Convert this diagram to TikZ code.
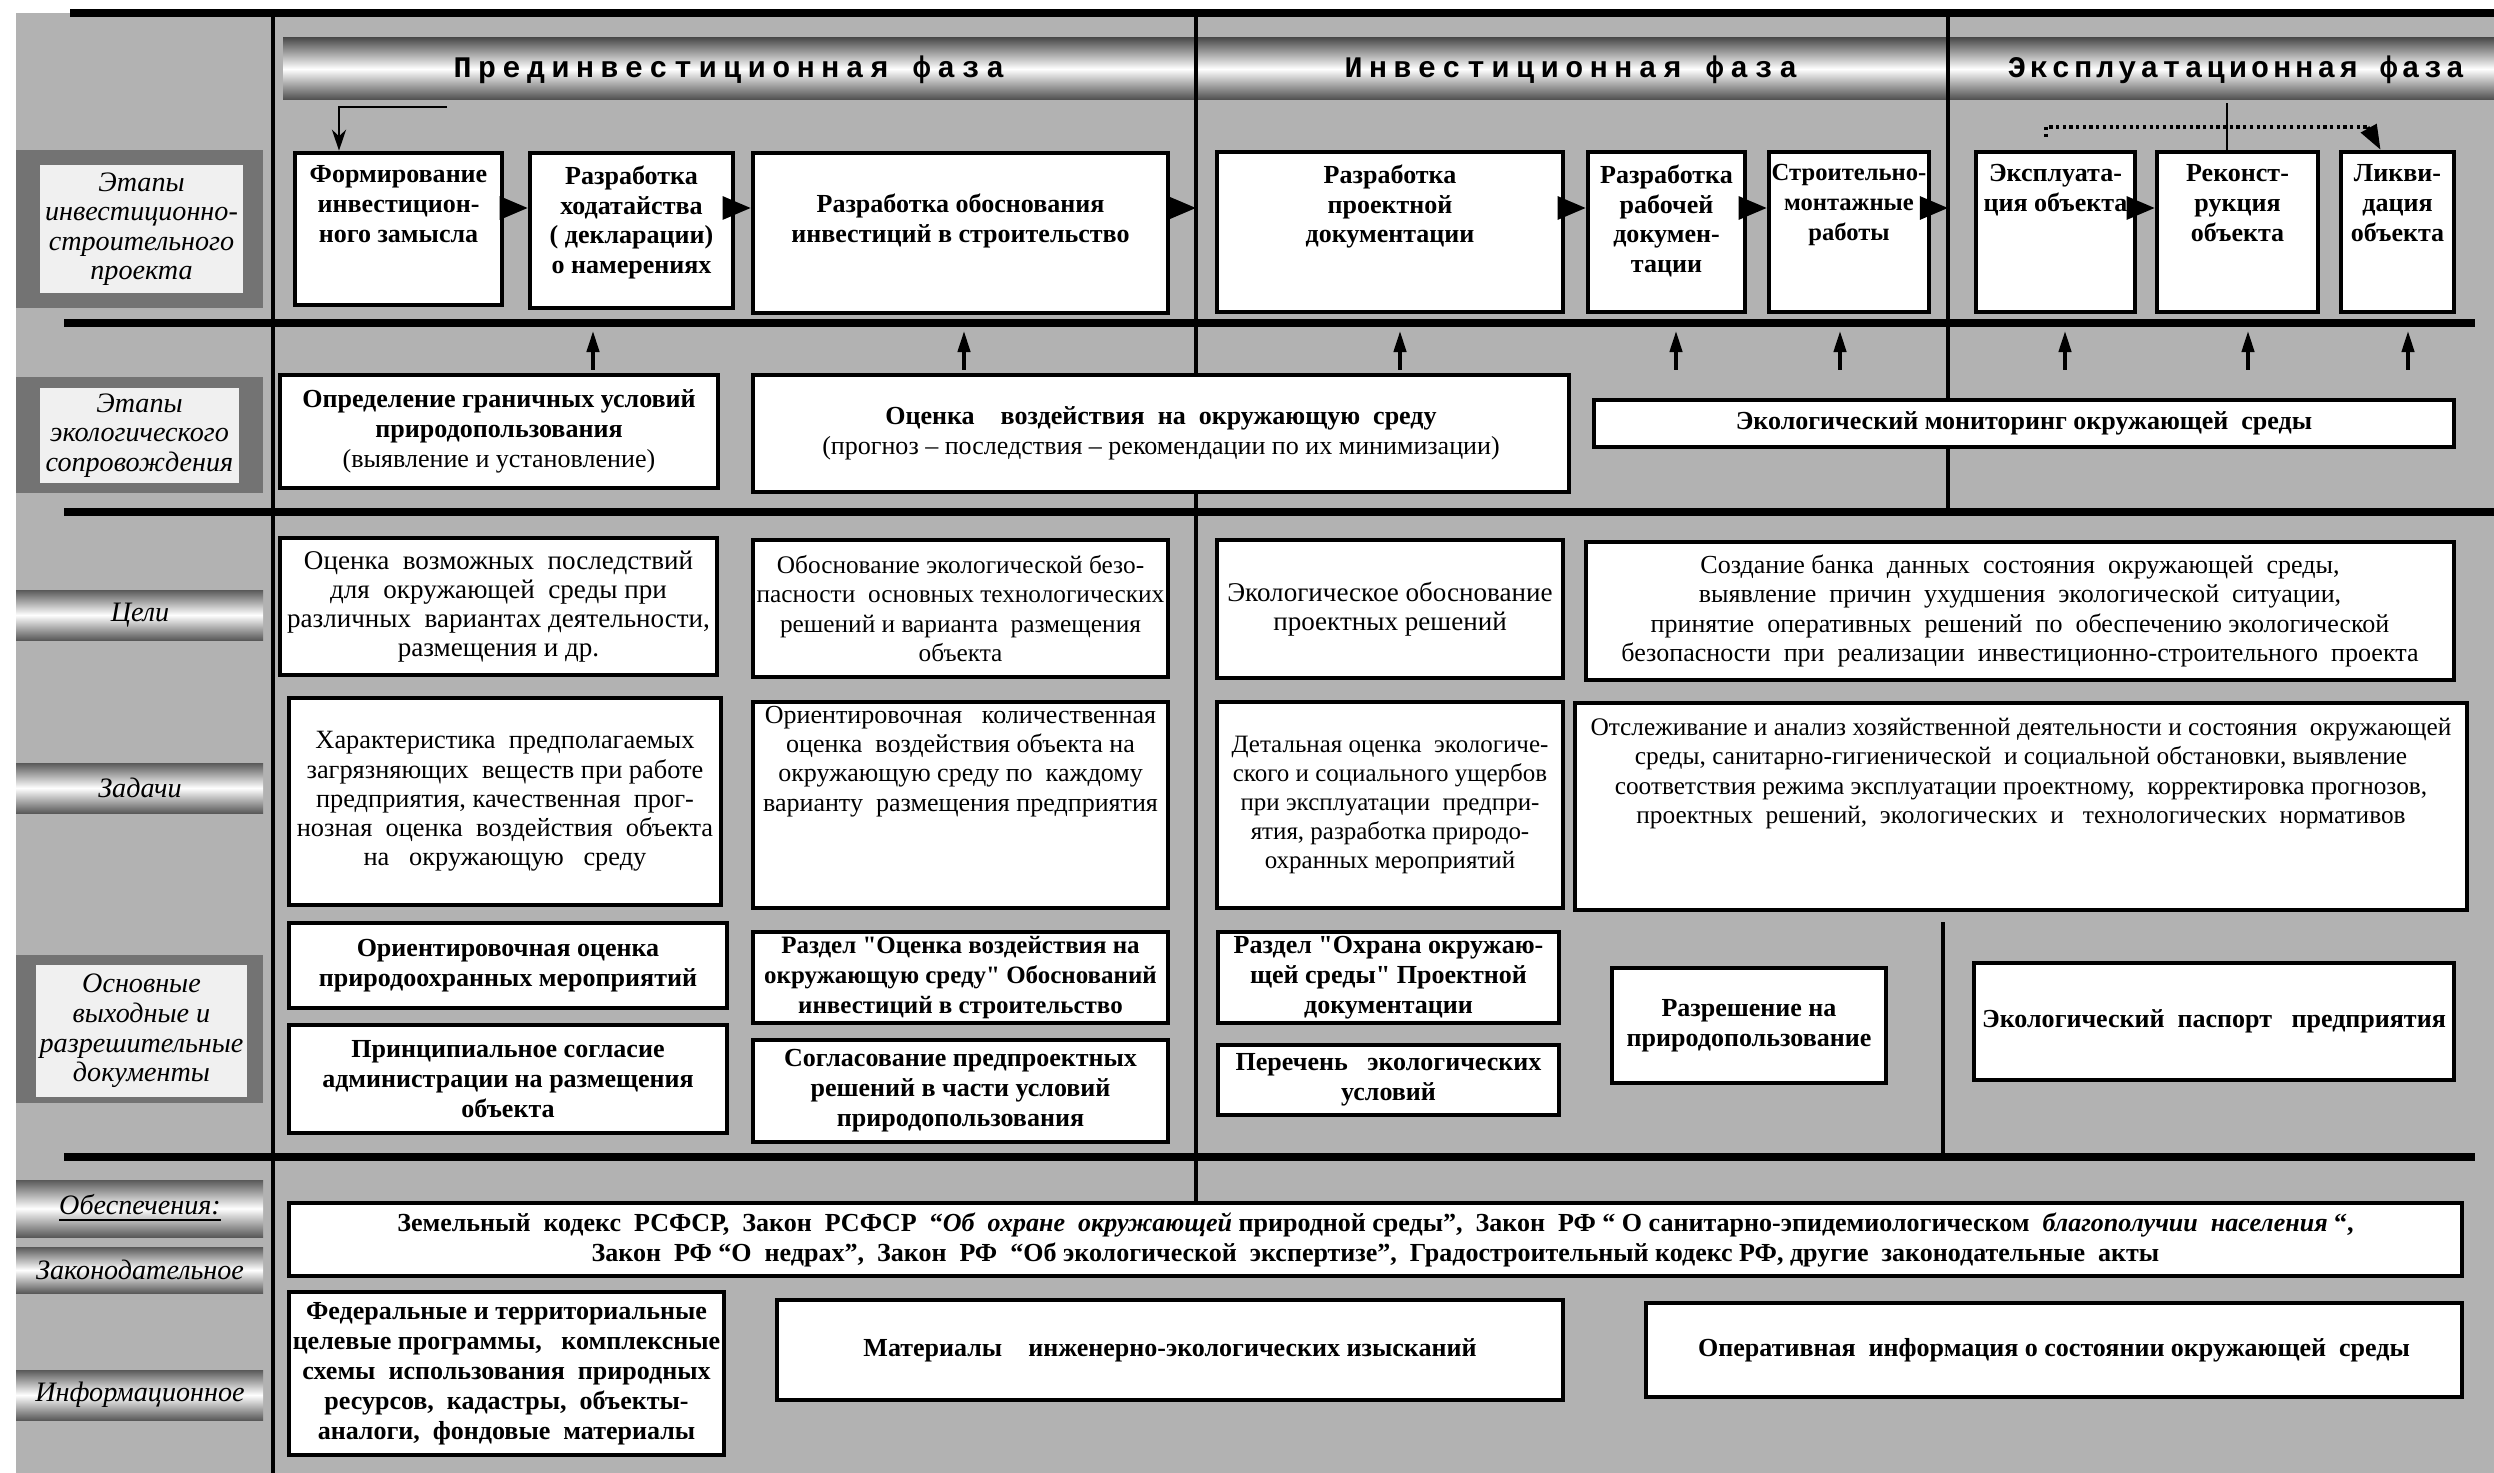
\documentclass[tikz,border=0pt]{standalone}
\usepackage{fontspec}
\setmainfont{Liberation Serif}
\newfontfamily\phasefont[LetterSpace=22]{Liberation Mono}
\newfontfamily\phasefontn[LetterSpace=14]{Liberation Mono}
\usetikzlibrary{arrows.meta,positioning}

% box from its corners: [opts]{name}{x1}{y1}{x2}{y2}{text}
\newcommand\bx[7][]{%
  \node[box,minimum width={(#5-#3)*0.01cm},minimum height={(#6-#4)*0.01cm},#1]
    (#2) at ({(#3+#5)/2},{(#4+#6)/2}) {#7};}
% shaded strip of the left column: {name}{y1}{y2}{text}
\newcommand\sidestrip[4]{%
  \shade[top color=black!65, bottom color=black!65, middle color=white]
    (16,#2) rectangle (263,#3);
  \node[side] (#1) at (140,{(#2+#3)/2}) {#4};}
\newcommand\qq{\textquotedbl}

\begin{document}
\begin{tikzpicture}[x=0.01cm, y=-0.01cm,
  box/.style={draw, fill=white, line width=1.3pt, inner sep=1pt, align=center,
    font=\fontsize{7.4}{8.5}\selectfont\bfseries},
  plain/.style={font=\fontsize{#1}{8.3}\selectfont},
  plain/.default=7.7,
  stage/.style={inner sep=0pt, align=center, font=\fontsize{7.4}{8.5}\selectfont\bfseries},
  sidebox/.style={draw=none, fill=black!6, font=\fontsize{8}{8.4}\selectfont\itshape},
  side/.style={inner sep=0pt, align=center, font=\fontsize{8}{8.4}\selectfont\itshape},
  phase/.style={inner sep=0pt, font=\fontsize{8.5}{9}\selectfont\phasefont\bfseries},
  sep/.style={line width=2.3pt},
  col/.style={line width=1.4pt},
  harr/.style={-{Triangle[length=8pt,width=6.5pt]}, line width=1pt},
  uparr/.style={-{Triangle[length=6pt,width=3.5pt]}, line width=1pt}]
  \useasboundingbox (0,0) rectangle (2494,1473);
  \fill[black!30] (16,13) rectangle (2494,1473);
  % phase band
  \shade[top color=black!70, bottom color=black!70, middle color=white]
    (283,38) rectangle (2494,100);
  \node[phase] (p1) at (729,70) {Прединвестиционная фаза};
  \node[phase] (p2) at (1571,70) {Инвестиционная фаза};
  \node[phase, font=\fontsize{8.5}{9}\selectfont\phasefontn\bfseries] (p3) at (2236,70) {Эксплуатационная фаза};

  % left column
  \fill[black!55] (16,150) rectangle (263,308);
  \bx[sidebox]{l1}{40}{165}{243}{293}{Этапы\\инвестиционно-\\строительного\\проекта}
  \fill[black!55] (16,377) rectangle (263,493);
  \bx[sidebox]{l2}{40}{388}{239}{483}{Этапы\\экологического\\сопровождения}
  \sidestrip{l3}{590}{640}{Цели}
  \sidestrip{l4}{763}{813}{Задачи}
  \fill[black!55] (16,955) rectangle (263,1103);
  \bx[sidebox]{l5}{40}{965}{243}{1097}{Основные\\выходные и\\разрешительные\\документы}
  \sidestrip{l6}{1180}{1237}{\underline{Обеспечения:}}
  \sidestrip{l7}{1247}{1293}{Законодательное}
  \sidestrip{l8}{1370}{1420}{Информационное}

  % rules
  \draw[sep] (70,13) -- (2494,13);
  \draw[sep] (64,323) -- (2475,323);
  \draw[sep] (64,512) -- (2494,512);
  \draw[sep] (64,1157) -- (2475,1157);
  \coordinate (v2) at (1196,0);
  \coordinate (v3) at (1948,0);
  \draw[col] (273,13) -- (273,1473);
  \draw[col] (v2 |- 0,13) -- (v2 |- 0,1205);
  \draw[col] (v3 |- 0,13) -- (v3 |- 0,512);
  \draw[col] (1943,922) -- (1943,1157);

  % stages of the project
  \bx{s1}{295}{153}{502}{305}{}
  \bx{s2}{530}{153}{733}{308}{}
  \bx{s3}{753}{153}{1168}{313}{}
  \bx{s4}{1217}{152}{1563}{312}{}
  \bx{s5}{1588}{152}{1745}{312}{}
  \bx{s6}{1769}{152}{1929}{312}{}
  \bx{s7}{1976}{152}{2135}{312}{}
  \bx{s8}{2157}{152}{2318}{312}{}
  \bx{s9}{2341}{152}{2454}{312}{}
  \node[stage, below=4pt of s1.north] (s1t) {Формирование\\инвестицион-\\ного замысла};
  \node[stage, below=4pt of s2.north] (s2t) {Разработка\\ходатайства\\( декларации)\\о намерениях};
  \node[stage, below=12pt of s3.north] (s3t) {Разработка обоснования\\инвестиций в строительство};
  \node[stage, below=4pt of s4.north] (s4t) {Разработка\\проектной\\документации};
  \node[stage, below=4pt of s5.north] (s5t) {Разработка\\рабочей\\докумен-\\тации};
  \node[stage, below=4pt of s6.north, font=\fontsize{7}{8.5}\selectfont\bfseries] (s6t) {Строительно-\\монтажные\\работы};
  \node[stage, below=4pt of s7.north] (s7t) {Эксплуата-\\ция объекта};
  \node[stage, below=4pt of s8.north] (s8t) {Реконст-\\рукция\\объекта};
  \node[stage, below=4pt of s9.north] (s9t) {Ликви-\\дация\\объекта};

  \coordinate (ar) at (0,208);
  \draw[harr] (s1.east |- ar) -- (s2.west |- ar);
  \draw[harr] (s2.east |- ar) -- (s3.west |- ar);
  \draw[harr] (s3.east |- ar) -- (v2 |- ar);
  \draw[harr] (s4.east |- ar) -- (s5.west |- ar);
  \draw[harr] (s5.east |- ar) -- (s6.west |- ar);
  \draw[harr] (s6.east |- ar) -- (v3 |- ar);
  \draw[harr] (s7.east |- ar) -- (s8.west |- ar);
  \coordinate (f0) at (447,107);
  \coordinate (f1) at (339,0);
  \draw[-{Stealth[length=6pt,width=4pt]}, line width=0.8pt] (f0) -| (f1 |- s1.north);
  % feedback in the operating phase
  \coordinate (d1) at (2046,137);
  \coordinate (d2) at (2046,127);
  \coordinate (d3) at (2368,127);
  \coordinate (d4) at (2227,103);
  \draw[line width=0.8pt] (s8.north -| d4) -- (d4);
  \draw[densely dotted, line width=0.9pt] (d1) -- (d2) -- (d3);
  \draw[-{Triangle[length=7pt,width=5pt]}, line width=0.9pt] (d3) -- ([xshift=-0.17cm]s9.north);

  % ecological support
  \bx{e1}{280}{375}{718}{488}{Определение граничных условий\\природопользования\\\textmd{(выявление и установление)}}
  \bx{e2}{753}{375}{1569}{492}{Оценка\quad воздействия\ \ на\ \ окружающую\ \ среду\\\textmd{(прогноз -- последствия -- рекомендации по их минимизации)}}
  \bx{e3}{1594}{400}{2454}{447}{Экологический мониторинг окружающей\ \ среды}
  \foreach \x [count=\i] in {593,964,1400,1676,1840,2065,2248,2408} {
    \coordinate (u\i) at (\x,370);
    \coordinate (w\i) at (\x,331);
    \draw[uparr] (u\i) -- (w\i);
  }

  % goals
  \bx[plain]{g1}{280}{538}{717}{675}{Оценка\ \ возможных\ \ последствий\\для\ \ окружающей\ \ среды при\\различных\ \ вариантах деятельности,\\размещения и др.}
  \bx[plain=7.2]{g2}{753}{540}{1168}{677}{Обоснование экологической безо-\\пасности\ \ основных технологических\\решений и варианта\ \ размещения\\объекта}
  \bx[plain]{g3}{1217}{540}{1563}{678}{Экологическое обоснование\\проектных решений}
  \bx[plain=7.4]{g4}{1586}{542}{2454}{680}{Создание банка\ \ данных\ \ состояния\ \ окружающей\ \ среды,\\выявление\ \ причин\ \ ухудшения\ \ экологической\ \ ситуации,\\принятие\ \ оперативных\ \ решений\ \ по\ \ обеспечению экологической\\безопасности\ \ при\ \ реализации\ \ инвестиционно-строительного\ \ проекта}
  % tasks
  \bx[plain=7.5]{t1}{289}{698}{721}{905}{Характеристика\ \ предполагаемых\\загрязняющих\ \ веществ при работе\\предприятия, качественная\ \ прог-\\нозная\ \ оценка\ \ воздействия\ \ объекта\\на\ \ \ окружающую\ \ \ среду}
  \bx[plain=7.4]{t2}{753}{702}{1168}{908}{Ориентировочная\ \ \ количественная\\оценка\ \ воздействия объекта на\\окружающую среду по\ \ каждому\\варианту\ \ размещения предприятия\\[18pt]}
  \bx[plain=7.1]{t3}{1217}{702}{1563}{908}{Детальная оценка\ \ экологиче-\\ского и социального ущербов\\при эксплуатации\ \ предпри-\\ятия, разработка природо-\\охранных мероприятий}
  \bx[plain=7.2]{t4}{1575}{703}{2467}{910}{Отслеживание и анализ хозяйственной деятельности и состояния\ \ окружающей\\среды, санитарно-гигиенической\ \ и социальной обстановки, выявление\\соответствия режима эксплуатации проектному,\ \ корректировка прогнозов,\\проектных\ \ решений,\ \ экологических\ \ и\ \ \ технологических\ \ нормативов\\[12pt]}

  % documents
  \bx{d1}{289}{923}{727}{1008}{Ориентировочная оценка\\природоохранных мероприятий}
  \bx{d2}{289}{1025}{727}{1133}{Принципиальное согласие\\администрации на размещения\\объекта}
  \bx[font=\fontsize{7.1}{8.5}\selectfont\bfseries]{d3}{753}{932}{1168}{1023}{Раздел \qq Оценка воздействия на\\окружающую среду\qq\ Обоснований\\инвестиций в строительство}
  \bx{d4}{753}{1040}{1168}{1142}{Согласование предпроектных\\решений в части условий\\природопользования}
  \bx{d5}{1218}{932}{1559}{1023}{Раздел \qq Охрана окружаю-\\щей среды\qq\ Проектной\\документации}
  \bx{d6}{1218}{1045}{1559}{1115}{Перечень\ \ \ экологических\\условий}
  \bx{d7}{1612}{968}{1886}{1083}{Разрешение на\\природопользование}
  \bx{d8}{1974}{963}{2454}{1080}{Экологический\ \ паспорт\ \ \ предприятия}

  % provision
  \bx{z1}{289}{1203}{2462}{1276}{Земельный\ \ кодекс\ \ РСФСР,\ \ Закон\ \ РСФСР\ \ “{\itshape Об\ \ охране\ \ окружающей} природной среды”,\ \ Закон\ \ РФ\ “\ О санитарно-эпидемиологическом\ \ {\itshape благополучии\ \ населения}\ “,\\Закон\ \ РФ\ “О\ \ недрах”,\ \ Закон\ \ РФ\ \ “Об экологической\ \ экспертизе”,\ \ Градостроительный кодекс РФ, другие\ \ законодательные\ \ акты}
  \bx{z2}{289}{1292}{724}{1455}{Федеральные и территориальные\\целевые программы,\ \ \ комплексные\\схемы\ \ использования\ \ природных\\ресурсов,\ \ кадастры,\ \ объекты-\\аналоги,\ \ фондовые\ \ материалы}
  \bx{z3}{777}{1300}{1563}{1400}{Материалы\quad инженерно-экологических изысканий}
  \bx{z4}{1646}{1303}{2462}{1397}{Оперативная\ \ информация о состоянии окружающей\ \ среды}
\end{tikzpicture}
\end{document}
